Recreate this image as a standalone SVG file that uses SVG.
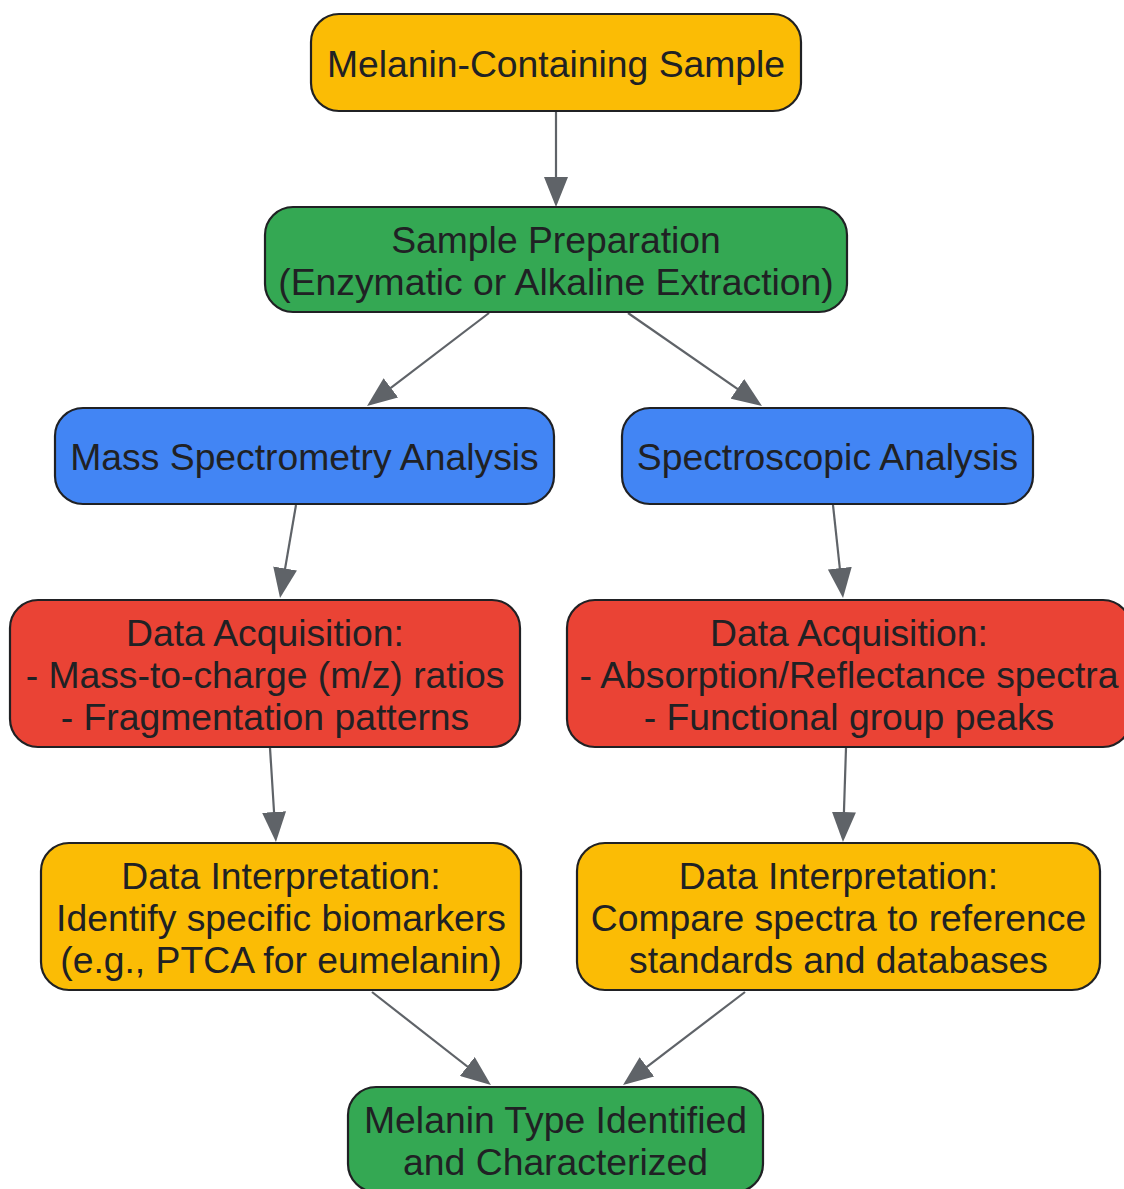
<svg xmlns="http://www.w3.org/2000/svg" width="1124" height="1189" viewBox="0 0 1124 1189">
<style>
.n{stroke:#202124;stroke-width:2.2}
.y{fill:#FBBC05}.g{fill:#34A853}.b{fill:#4285F4}.r{fill:#EA4335}
text{font-family:"Liberation Sans",Arial,sans-serif;font-size:37.3px;fill:#202124;text-anchor:middle}
.e{stroke:#5F6368;stroke-width:2.2;fill:none;marker-end:url(#arr)}
</style>
<defs>
<marker id="arr" markerUnits="userSpaceOnUse" markerWidth="30" markerHeight="24" refX="26" refY="12" orient="auto">
<path d="M0,0 L30,12 L0,24 z" fill="#5F6368"/>
</marker>
</defs>
<rect width="1124" height="1189" fill="#fff"/>
<g id="edges">
<line class="e" x1="556" y1="111" x2="556" y2="203"/>
<line class="e" x1="489" y1="313" x2="370.2" y2="403.6"/>
<line class="e" x1="628" y1="313" x2="758.7" y2="403.7"/>
<line class="e" x1="296" y1="505" x2="280.7" y2="594.1"/>
<line class="e" x1="833" y1="505" x2="842.6" y2="594"/>
<line class="e" x1="270" y1="748" x2="275.7" y2="838"/>
<line class="e" x1="846" y1="748" x2="843.1" y2="838"/>
<line class="e" x1="372" y1="992" x2="487.8" y2="1082.5"/>
<line class="e" x1="745" y1="992" x2="626.2" y2="1082.6"/>
</g>
<g id="sample">
<rect class="n y" x="311" y="14" width="490" height="97" rx="28"/>
<text x="556" y="77">Melanin-Containing Sample</text>
</g>
<g id="prep">
<rect class="n g" x="265" y="207" width="582" height="105" rx="28"/>
<text x="556" y="253">Sample Preparation</text>
<text x="556" y="295">(Enzymatic or Alkaline Extraction)</text>
</g>
<g id="ms">
<rect class="n b" x="55" y="408" width="499" height="96" rx="28"/>
<text x="304.5" y="470">Mass Spectrometry Analysis</text>
</g>
<g id="spec">
<rect class="n b" x="622" y="408" width="411" height="96" rx="28"/>
<text x="827.5" y="470">Spectroscopic Analysis</text>
</g>
<g id="acqms">
<rect class="n r" x="10" y="600" width="510" height="147" rx="28"/>
<text x="265" y="645.5">Data Acquisition:</text>
<text x="265" y="687.5">- Mass-to-charge (m/z) ratios</text>
<text x="265" y="729.5">- Fragmentation patterns</text>
</g>
<g id="acqspec">
<rect class="n r" x="567" y="600" width="564" height="147" rx="28"/>
<text x="849" y="645.5">Data Acquisition:</text>
<text x="849" y="687.5">- Absorption/Reflectance spectra</text>
<text x="849" y="729.5">- Functional group peaks</text>
</g>
<g id="intms">
<rect class="n y" x="41" y="843" width="480" height="147" rx="28"/>
<text x="281" y="888.5">Data Interpretation:</text>
<text x="281" y="930.5">Identify specific biomarkers</text>
<text x="281" y="972.5">(e.g., PTCA for eumelanin)</text>
</g>
<g id="intspec">
<rect class="n y" x="577" y="843" width="523" height="147" rx="28"/>
<text x="838.5" y="888.5">Data Interpretation:</text>
<text x="838.5" y="930.5">Compare spectra to reference</text>
<text x="838.5" y="972.5">standards and databases</text>
</g>
<g id="result">
<rect class="n g" x="348" y="1087" width="415" height="105" rx="28"/>
<text x="555.5" y="1133">Melanin Type Identified</text>
<text x="555.5" y="1175">and Characterized</text>
</g>
</svg>
